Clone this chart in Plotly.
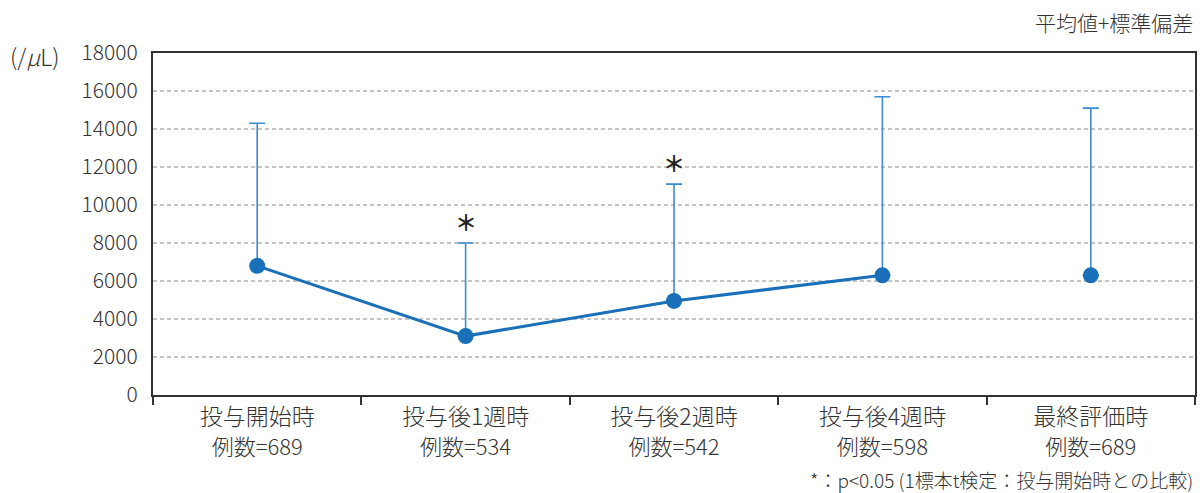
import plotly.graph_objects as go

# Time points and case counts
categories = ["投与開始時", "投与後1週時", "投与後2週時", "投与後4週時", "最終評価時"]
case_counts = [689, 534, 542, 598, 689]

# Mean and standard deviation (/μL)
means = [6800, 3100, 4950, 6300, 6300]
sds = [7500, 4900, 6150, 9400, 8800]

# Points significantly different from baseline
significant = [False, True, True, False, False]

# Number of consecutive time points joined by the line (final evaluation stands alone)
n_connected = 4

y_ticks = list(range(0, 18001, 2000))
y_ticktext = [str(v) for v in y_ticks]

FONT = "Noto Sans CJK JP, Noto Sans, sans-serif"
BLUE = "#1a70b8"
ERR_BLUE = "#3a8cd0"
TEXT = "#333333"
W = 300  # light text weight

fig = go.Figure()

# Connecting line for the scheduled visits
fig.add_trace(go.Scatter(
    x=categories[:n_connected], y=means[:n_connected],
    mode="lines", line=dict(color=BLUE, width=3),
    hoverinfo="skip", showlegend=False,
))

# Markers with upper error bars (mean + SD)
fig.add_trace(go.Scatter(
    x=categories, y=means, mode="markers",
    marker=dict(color=BLUE, size=16),
    error_y=dict(type="data", symmetric=False, array=sds,
                 arrayminus=[0] * len(sds), color=ERR_BLUE,
                 thickness=1.6, width=8),
    showlegend=False,
))

# Significance markers above the error bars
for cat, m, s, sig in zip(categories, means, sds, significant):
    if sig:
        fig.add_annotation(x=cat, y=m + s, text="＊", showarrow=False,
                           yanchor="bottom", yshift=4,
                           font=dict(family=FONT, size=22, color="#222222",
                                     weight=700))

ticktext = [
    f"{c}<br><span style='font-size:22px'>例数={n}</span>"
    for c, n in zip(categories, case_counts)
]

fig.update_xaxes(
    type="category", range=[-0.5, len(categories) - 0.5],
    tickvals=categories, ticktext=ticktext, tickson="boundaries",
    ticks="outside", ticklen=8, tickcolor=TEXT, tickwidth=1.5,
    showline=True, linecolor=TEXT, linewidth=2, mirror=True,
    showgrid=False, zeroline=False,
    tickfont=dict(family=FONT, size=23, color=TEXT, weight=W),
)
fig.update_yaxes(
    range=[0, 18000], tickvals=y_ticks, ticktext=y_ticktext, ticks="",
    showline=True, linecolor=TEXT, linewidth=2, mirror=True,
    showgrid=True, gridcolor="#c4c4c4", gridwidth=1.5, griddash="4px,3px",
    zeroline=False, ticklabelstandoff=9,
    tickfont=dict(family=FONT, size=21, color=TEXT, weight=W),
)

# Unit label, statistic note and footnote
fig.add_annotation(xref="paper", yref="paper", x=0, y=1, xshift=-145,
                   xanchor="left", yanchor="middle", yshift=-3,
                   text="(/<i>μ</i>L)", showarrow=False,
                   font=dict(family=FONT, size=23, color=TEXT, weight=W))
fig.add_annotation(xref="paper", yref="paper", x=1, y=1, yshift=31,
                   xanchor="right", yanchor="middle",
                   text="平均値+標準偏差", showarrow=False,
                   font=dict(family=FONT, size=21, color=TEXT, weight=W))
fig.add_annotation(xref="paper", yref="paper", x=1, y=0, yshift=-84,
                   xanchor="right", yanchor="middle",
                   text="*：p<0.05 (1標本t検定：投与開始時との比較)", showarrow=False,
                   font=dict(family=FONT, size=19, color=TEXT, weight=W))

fig.update_layout(
    width=1200, height=493,
    margin=dict(l=153, r=3, t=53, b=98),
    plot_bgcolor="white", paper_bgcolor="white",
    font=dict(family=FONT, color=TEXT),
)

fig.write_html("out.html")
